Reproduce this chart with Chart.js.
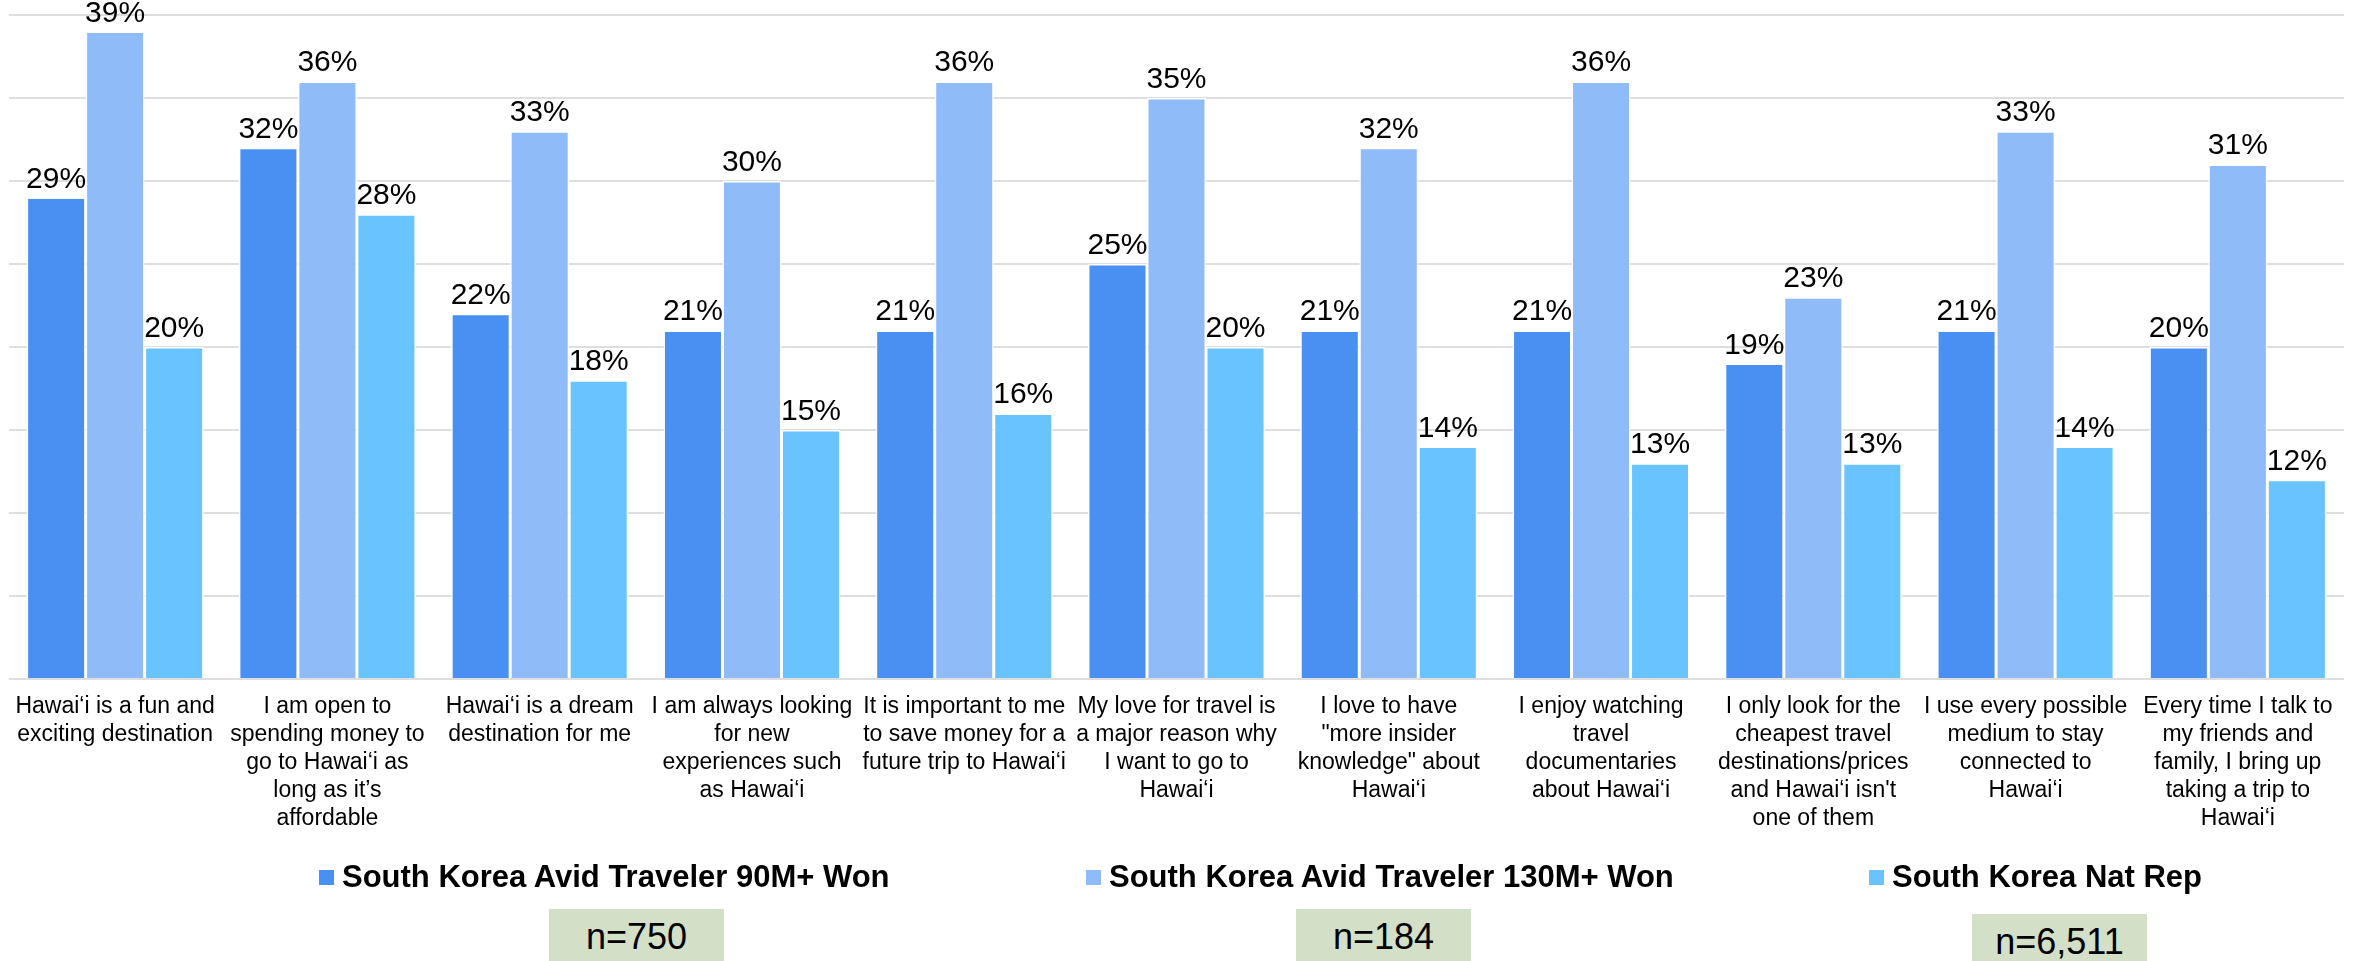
<!DOCTYPE html>
<html>
<head>
<meta charset="utf-8">
<title>Hawaiʻi attitudes – South Korea</title>
<script src="https://cdn.jsdelivr.net/npm/chart.js@4.4.1/dist/chart.umd.min.js"></script>
<style>
    html, body { margin: 0; padding: 0; background: #fff; overflow: hidden; }
    #wrap { position: relative; width: 2364px; height: 961px; font-family: "Liberation Sans", Arial, sans-serif; }
    #chart { position: absolute; left: 0; top: 0; }
    .leg-box { position: absolute; width: 15px; height: 15px; top: 870px; }
    .leg-text { position: absolute; top: 861px; font-size: 31px; line-height: 31px; font-weight: bold; color: #000; white-space: nowrap; }
    .n-box { position: absolute; width: 175px; height: 60px; background: #d3dfc7; color: #000; font-size: 36px; line-height: 36px; text-align: center; box-sizing: border-box; padding-top: 10px; }
</style>
</head>
<body>
<div id="wrap">
    <canvas id="chart" width="2364" height="961"></canvas>
</div>
<script>
"use strict";

// statements, one array of lines per category
const statements = [
    ["Hawai‘i is a fun and", "exciting destination"],
    ["I am open to", "spending money to", "go to Hawai‘i as", "long as it’s", "affordable"],
    ["Hawai‘i is a dream", "destination for me"],
    ["I am always looking", "for new", "experiences such", "as Hawai‘i"],
    ["It is important to me", "to save money for a", "future trip to Hawai‘i"],
    ["My love for travel is", "a major reason why", "I want to go to", "Hawai‘i"],
    ["I love to have", "\"more insider", "knowledge\" about", "Hawai‘i"],
    ["I enjoy watching", "travel", "documentaries", "about Hawai‘i"],
    ["I only look for the", "cheapest travel", "destinations/prices", "and Hawai‘i isn't", "one of them"],
    ["I use every possible", "medium to stay", "connected to", "Hawai‘i"],
    ["Every time I talk to", "my friends and", "family, I bring up", "taking a trip to", "Hawai‘i"]
];

const avid90 = [29, 32, 22, 21, 21, 25, 21, 21, 19, 21, 20];
const avid130 = [39, 36, 33, 30, 36, 35, 32, 36, 23, 33, 31];
const natRep = [20, 28, 18, 15, 16, 20, 14, 13, 13, 14, 12];

const seriesNames = ["South Korea Avid Traveler 90M+ Won", "South Korea Avid Traveler 130M+ Won", "South Korea Nat Rep"];
const seriesColors = ["#4a8ff2", "#8fbbf8", "#68c3ff"];
const sampleSizes = ["n=750", "n=184", "n=6,511"];

const yTicks = [0, 5, 10, 15, 20, 25, 30, 35, 40];

const wrap = document.getElementById("wrap");

// percent labels over every bar
const valueLabels = {
    id: "valueLabels",
    afterDatasetsDraw(chart) {
        const ctx = chart.ctx;
        ctx.save();
        ctx.font = '30px "Liberation Sans", Arial, sans-serif';
        ctx.fillStyle = "#000";
        ctx.textAlign = "center";
        ctx.textBaseline = "alphabetic";
        chart.data.datasets.forEach(function(ds, i){
            chart.getDatasetMeta(i).data.forEach(function(bar, j){
                ctx.fillText(ds.data[j] + "%", bar.x, bar.y - 10);
            });
        });
        ctx.restore();
    }
};

function makeSet(idx, values){
    return {
        label: seriesNames[idx],
        data: values,
        backgroundColor: seriesColors[idx],
        borderColor: "#ffffff",
        borderWidth: 1.5,
        categoryPercentage: 0.834,
        barPercentage: 1
    };
}

new Chart(document.getElementById("chart"), {
    type: "bar",
    data: {
        labels: statements,
        datasets: [makeSet(0, avid90), makeSet(1, avid130), makeSet(2, natRep)]
    },
    options: {
        responsive: false,
        animation: false,
        devicePixelRatio: 1,
        layout: { padding: { top: 15, left: 9, right: 20, bottom: 0 } },
        plugins: {
            legend: { display: false },
            tooltip: { enabled: false }
        },
        scales: {
            x: {
                grid: { display: false, drawTicks: false },
                border: { display: false },
                ticks: {
                    color: "#000",
                    padding: 14,
                    maxRotation: 0,
                    autoSkip: false,
                    font: { family: '"Liberation Sans", Arial, sans-serif', size: 23, lineHeight: "28px" }
                },
                afterFit(scale){ scale.height = 282; }
            },
            y: {
                min: yTicks[0],
                max: yTicks[yTicks.length - 1],
                afterBuildTicks(scale){ scale.ticks = yTicks.map(v => ({ value: v })); },
                ticks: { display: false },
                grid: { color: "#dedede", lineWidth: 2, drawTicks: false },
                border: { display: false },
                afterFit(scale){ scale.width = 0; }
            }
        }
    },
    plugins: [valueLabels]
});

// legend row under the axis labels
const legendX = [319, 1086, 1869];
seriesNames.forEach(function(name, i){
    let box = document.createElement("div");
    box.setAttribute("class", "leg-box");
    box.style.left = legendX[i] + "px";
    box.style.background = seriesColors[i];
    wrap.appendChild(box);

    let txt = document.createElement("div");
    txt.setAttribute("class", "leg-text");
    txt.style.left = (legendX[i] + 23) + "px";
    txt.textContent = name;
    wrap.appendChild(txt);
});

// sample size boxes
const nBoxX = [549, 1296, 1972];
const nBoxY = [909, 909, 914];
sampleSizes.forEach(function(n, i){
    let nb = document.createElement("div");
    nb.setAttribute("class", "n-box");
    nb.style.left = nBoxX[i] + "px";
    nb.style.top = nBoxY[i] + "px";
    nb.textContent = n;
    wrap.appendChild(nb);
});
</script>
</body>
</html>
